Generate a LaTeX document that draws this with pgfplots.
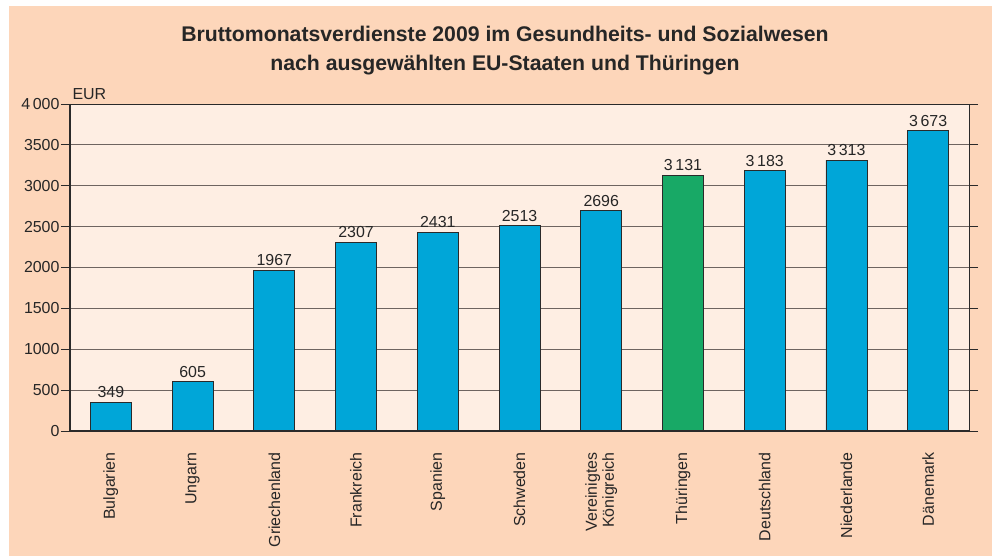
\documentclass[border=0pt]{standalone}
\usepackage{pgfplots}
\pgfplotsset{compat=1.18}
\usepackage{fontspec}
\setmainfont{Liberation Sans}
\definecolor{peach}{HTML}{FDD6BA}
\definecolor{plotbg}{HTML}{FEEEE3}
\definecolor{barblue}{HTML}{00A6D8}
\definecolor{bargreen}{HTML}{18A966}
\definecolor{edge}{HTML}{2A2A2A}
\definecolor{txt}{HTML}{262626}
\definecolor{gridc}{HTML}{6E6460}
\begin{document}
\begin{tikzpicture}[x=1bp,y=1bp]
\useasboundingbox (0,0) rectangle (992,556);
\fill[white] (0,0) rectangle (992,556);
\fill[peach] (9,0) rectangle (992,550);
\node[font=\fontsize{21.3}{25}\selectfont\bfseries, text=txt, align=center] at (505,505) {Bruttomonatsverdienste 2009 im Gesundheits- und Sozialwesen\\[4bp]nach ausgewählten EU-Staaten und Thüringen};
\begin{axis}[
  at={(70bp,125bp)}, anchor=south west,
  width=899bp, height=327bp, scale only axis,
  xmin=-0.5, xmax=10.5, ymin=0, ymax=4000,
  axis background/.style={fill=plotbg},
  axis line style={draw=edge, line width=0.8bp},
  ymajorgrids, grid style={draw=gridc, line width=0.9bp},
  ytick={0,500,...,4000},
  yticklabels={0,500,1000,1500,2000,2500,3000,3500,4\,000},
  xtick={0,...,10},
  xticklabels={Bulgarien,Ungarn,Griechenland,Frankreich,Spanien,Schweden,{Vereinigtes\\Königreich},Thüringen,Deutschland,Niederlande,Dänemark},
  xtick style={draw=none},
  ytick style={draw=edge, line width=0.8bp},
  tick align=outside, major tick length=9bp,
  yticklabel style={font=\fontsize{16}{19}\selectfont, text=txt, xshift=2bp},
  xticklabel style={font=\fontsize{16}{17}\selectfont, text=txt, rotate=90, anchor=east, align=right, xshift=-9bp},
  /pgf/number format/assume math mode=true,
  ybar, bar width=41bp, bar shift=0pt,
  nodes near coords={\pgfplotspointmeta},
  point meta=explicit symbolic,
  nodes near coords style={font=\fontsize{16}{19}\selectfont, text=txt, inner sep=4bp},
  clip=false,
]
\addplot[fill=barblue, draw=edge, line width=0.7bp] coordinates {
 (0,349) [349] (1,605) [605] (2,1967) [1967] (3,2307) [2307] (4,2431) [2431]
 (5,2513) [2513] (6,2696) [2696] (8,3183) [3\,183] (9,3313) [3\,313] (10,3673) [3\,673]};
\addplot[fill=bargreen, draw=edge, line width=0.7bp] coordinates {(7,3131) [3\,131]};
\draw[edge, line width=1.6bp] (axis cs:-0.5,4000) -- (axis cs:-0.5,0) -- (axis cs:10.5,0);
\end{axis}
\node[anchor=west, font=\fontsize{16}{19}\selectfont, text=txt] at (69,462) {EUR};
\end{tikzpicture}
\end{document}
